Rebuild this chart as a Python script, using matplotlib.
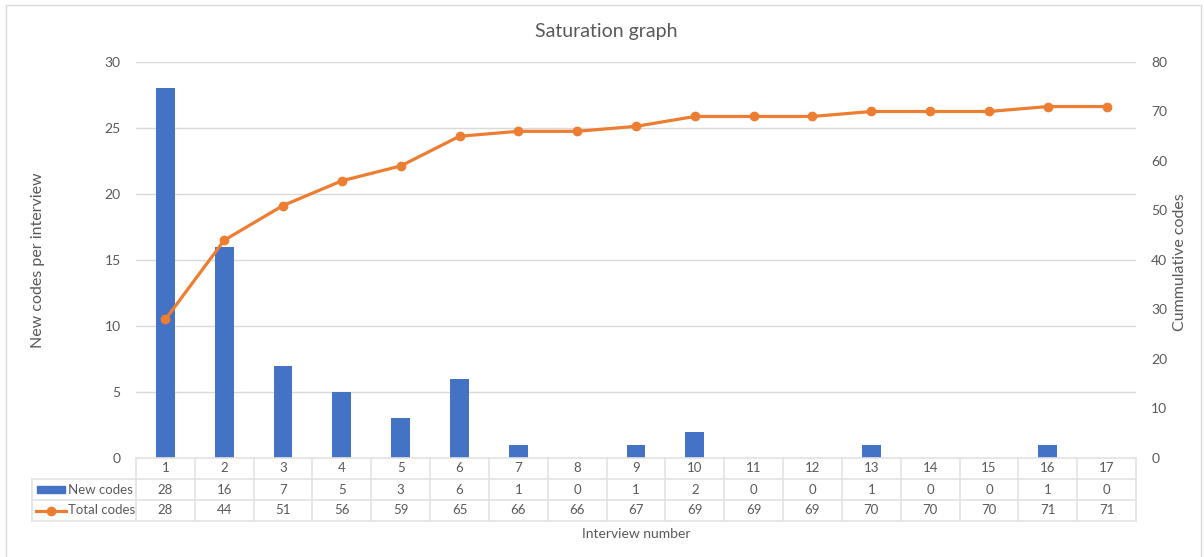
import matplotlib
matplotlib.use("Agg")
import matplotlib.pyplot as plt
from matplotlib.patches import Rectangle
from matplotlib.lines import Line2D

interviews = [str(i) for i in range(1, 18)]
new_codes = [28, 16, 7, 5, 3, 6, 1, 0, 1, 2, 0, 0, 1, 0, 0, 1, 0]
total_codes = [28, 44, 51, 56, 59, 65, 66, 66, 67, 69, 69, 69, 70, 70, 70, 71, 71]
series_names = ["New codes", "Total codes"]

BLUE = "#4472C4"
ORANGE = "#ED7D31"
GRAY = "#595959"
GRID = "#D9D9D9"
plt.rcParams['font.family'] = ['Lato', 'DejaVu Sans']

W, H = 1204, 557
fig = plt.figure(figsize=(W / 100, H / 100), dpi=100)
fig.patch.set_facecolor("white")

# outer chart border
fig.add_artist(Rectangle((6 / W, -0.01), (1201 - 6) / W, 1 - 5 / H + 0.01,
                         transform=fig.transFigure, fill=False, ec=GRID, lw=1.0))

L, R, T, B = 136, 1136, 62, 458
ax = fig.add_axes([L / W, 1 - B / H, (R - L) / W, (B - T) / H])
x = list(range(1, len(interviews) + 1))

ax.bar(x, new_codes, width=0.32, color=BLUE, zorder=2)
ax.set_xlim(0.5, len(x) + 0.5)
ax.set_ylim(0, 30)
ax.set_yticks(range(0, 31, 5))
ax.yaxis.grid(True, color=GRID, lw=1.0)
ax.set_axisbelow(True)
ax.set_xticks([])
for s in ax.spines.values():
    s.set_visible(False)
ax.tick_params(axis="y", length=0, pad=11, labelsize=10, labelcolor=GRAY)

ax2 = ax.twinx()
ax2.plot(x, total_codes, color=ORANGE, lw=2.3, marker="o", ms=6, zorder=3)
ax2.set_ylim(0, 80)
ax2.set_yticks(range(0, 81, 10))
for s in ax2.spines.values():
    s.set_visible(False)
ax2.tick_params(axis="y", length=0, pad=11, labelsize=10, labelcolor=GRAY)
ax2.set_xlim(0.5, len(x) + 0.5)

# data table
axh = B - T
rows = [0, -21 / axh, -42 / axh, -63 / axh]
xt = ax.get_xaxis_transform()
tc = ax.transAxes
legx = (32 - L) / (R - L)
lkw = dict(color="#E3E3E3", lw=1.2, clip_on=False)
ax.add_line(Line2D([0, 1], [rows[0], rows[0]], transform=tc, **lkw))
for r in rows[1:]:
    ax.add_line(Line2D([legx, 1], [r, r], transform=tc, **lkw))
for i in range(len(x) + 1):
    xb = 0.5 + i
    ax.add_line(Line2D([xb, xb], [rows[0], rows[3]], transform=xt, **lkw))
ax.add_line(Line2D([legx, legx], [rows[1], rows[3]], transform=tc, **lkw))

for i, xi in enumerate(x):
    ax.text(xi, (rows[0] + rows[1]) / 2, interviews[i], transform=xt, ha="center",
            va="center", fontsize=9.5, color=GRAY, clip_on=False)
    ax.text(xi, (rows[1] + rows[2]) / 2, str(new_codes[i]), transform=xt, ha="center",
            va="center", fontsize=9.5, color=GRAY, clip_on=False)
    ax.text(xi, (rows[2] + rows[3]) / 2, str(total_codes[i]), transform=xt, ha="center",
            va="center", fontsize=9.5, color=GRAY, clip_on=False)

# legend keys in table
def fx(px):
    return (px - L) / (R - L)

y1 = (rows[1] + rows[2]) / 2
y2 = (rows[2] + rows[3]) / 2
ax.add_patch(Rectangle((fx(37), y1 - 3.5 / axh), fx(65) - fx(37), 7 / axh, transform=tc,
                       color=BLUE, clip_on=False))
ax.add_line(Line2D([fx(36), fx(66)], [y2, y2], transform=tc, color=ORANGE, lw=2.3,
                   clip_on=False))
ax.add_line(Line2D([fx(51)], [y2], transform=tc, color=ORANGE, marker="o", ms=6,
                   clip_on=False))
ax.text(fx(68), y1, series_names[0], transform=tc, ha="left", va="center", fontsize=9.5,
        color=GRAY, clip_on=False)
ax.text(fx(68), y2, series_names[1], transform=tc, ha="left", va="center", fontsize=9.5,
        color=GRAY, clip_on=False)

fig.text(606 / W, 1 - 31 / H, "Saturation graph", ha="center", va="center",
         fontsize=14, color=GRAY)
fig.text(636 / W, 1 - 534 / H, "Interview number", ha="center", va="center",
         fontsize=10, color=GRAY)
fig.text(38 / W, 1 - 260 / H, "New codes per interview", ha="center", va="center",
         rotation=90, fontsize=11.5, color=GRAY)
fig.text(1180 / W, 1 - 262 / H, "Cummulative codes", ha="center", va="center",
         rotation=90, fontsize=11.5, color=GRAY)

fig.savefig("out.png", dpi=100, facecolor="white")
